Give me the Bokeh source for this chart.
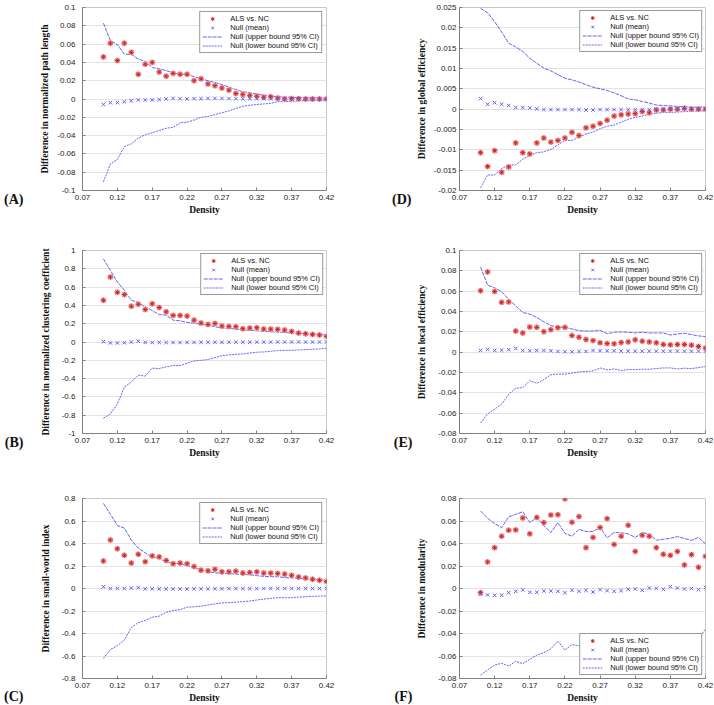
from bokeh.plotting import figure
from bokeh.layouts import gridplot
from bokeh.models import (FixedTicker, CustomJSTickFormatter, Legend, LegendItem,
                          LinearAxis, Range1d, ColumnDataSource)
from bokeh.embed import file_html
from bokeh.resources import INLINE

# ---------------- data ----------------
density = [0.10, 0.11, 0.12, 0.13, 0.14, 0.15, 0.16, 0.17, 0.18, 0.19, 0.20,
           0.21, 0.22, 0.23, 0.24, 0.25, 0.26, 0.27, 0.28, 0.29, 0.30, 0.31,
           0.32, 0.33, 0.34, 0.35, 0.36, 0.37, 0.38, 0.39, 0.40, 0.41, 0.42]
x_ticks = [0.07, 0.12, 0.17, 0.22, 0.27, 0.32, 0.37, 0.42]

legend_labels = ["ALS vs. NC", "Null (mean)", "Null (upper bound 95% CI)",
                 "Null (lower bound 95% CI)"]

# (A) normalized path length
A_ticks = [-0.1, -0.08, -0.06, -0.04, -0.02, 0, 0.02, 0.04, 0.06, 0.08, 0.1]
A_als = [0.046, 0.061, 0.042, 0.061, 0.051, 0.027, 0.038, 0.040, 0.0295, 0.025, 0.028,
         0.027, 0.027, 0.020, 0.022, 0.0165, 0.0145, 0.012, 0.0097, 0.006, 0.005, 0.004,
         0.003, 0.002, 0.0025, 0.001, 0.0, 0.0005, 0.0004, 0.0, 0.0, 0.0, 0.0]
A_null = [-0.006, -0.004, -0.004, -0.003, -0.002, -0.001, -0.001, -0.001, -0.0005, 0.0, 0.0007,
          0.0004, 0.0, 0.0004, 0.0004, 0.0007, 0.0007, 0.0006, 0.0005, 0.0004, 0.0003, 0.0003,
          0.0002, 0.0002, 0.0002, 0.0001, 0.0001, 0.0001, 0.0, 0.0, 0.0, 0.0, 0.0]
A_upper = [0.0828, 0.064, 0.0595, 0.049, 0.0487, 0.0437, 0.041, 0.0344, 0.033, 0.031, 0.0287,
           0.027, 0.027, 0.0244, 0.022, 0.020, 0.018, 0.0158, 0.013, 0.0104, 0.0079, 0.0068,
           0.0054, 0.0043, 0.0032, 0.0025, 0.002, 0.0018, 0.0015, 0.0014, 0.0011, 0.0010, 0.0007]
A_lower = [-0.0907, -0.071, -0.066, -0.052, -0.049, -0.0427, -0.039, -0.037, -0.0344, -0.032, -0.031,
           -0.026, -0.0254, -0.023, -0.020, -0.019, -0.017, -0.015, -0.013, -0.0104, -0.008, -0.0068,
           -0.006, -0.0054, -0.0047, -0.003, -0.0029, -0.0025, -0.002, -0.0018, -0.0018, -0.0015, -0.0014]

# (B) normalized clustering coefficient
B_ticks = [-1, -0.8, -0.6, -0.4, -0.2, 0, 0.2, 0.4, 0.6, 0.8, 1]
B_als = [0.456, 0.71, 0.543, 0.518, 0.391, 0.413, 0.355, 0.417, 0.377, 0.33, 0.29,
         0.29, 0.283, 0.239, 0.207, 0.192, 0.203, 0.174, 0.17, 0.167, 0.145, 0.152,
         0.156, 0.141, 0.141, 0.138, 0.13, 0.116, 0.098, 0.09, 0.083, 0.076, 0.062]
B_null = [0.004, -0.01, -0.01, -0.007, 0.0, 0.008, -0.004, -0.005, -0.005, -0.005, -0.005,
          -0.005, -0.004, -0.004, -0.003, -0.003, -0.003, -0.003, -0.002, -0.002, -0.002, -0.002,
          -0.001, -0.001, -0.001, 0.0, 0.0, 0.0, 0.0, 0.0, 0.0, 0.0, 0.0]
B_upper = [0.909, 0.783, 0.656, 0.565, 0.457, 0.431, 0.384, 0.344, 0.301, 0.293, 0.239,
           0.232, 0.214, 0.207, 0.192, 0.185, 0.167, 0.152, 0.149, 0.141, 0.134, 0.127,
           0.123, 0.116, 0.112, 0.109, 0.105, 0.098, 0.094, 0.091, 0.087, 0.083, 0.076]
B_lower = [-0.833, -0.786, -0.677, -0.493, -0.438, -0.362, -0.373, -0.286, -0.29, -0.272, -0.257,
           -0.257, -0.232, -0.207, -0.2, -0.192, -0.17, -0.149, -0.141, -0.134, -0.13, -0.12,
           -0.112, -0.109, -0.101, -0.094, -0.091, -0.091, -0.087, -0.083, -0.08, -0.076, -0.069]

# (C) small-world index
C_ticks = [-0.8, -0.6, -0.4, -0.2, 0, 0.2, 0.4, 0.6, 0.8]
C_als = [0.244, 0.431, 0.353, 0.295, 0.226, 0.304, 0.238, 0.29, 0.281, 0.249, 0.22,
         0.226, 0.22, 0.195, 0.163, 0.157, 0.171, 0.148, 0.148, 0.154, 0.137, 0.143,
         0.148, 0.137, 0.137, 0.134, 0.128, 0.117, 0.102, 0.094, 0.082, 0.073, 0.062]
C_null = [0.016, 0.0, 0.0, 0.0, 0.004, 0.007, -0.003, -0.003, -0.003, -0.004, -0.004,
          -0.004, -0.004, -0.003, -0.003, -0.003, -0.002, -0.002, -0.001, -0.001, -0.001, -0.001,
          -0.001, 0.0, 0.0, 0.0, 0.0, 0.0, 0.0, 0.0, 0.0, 0.0, 0.0]
C_upper = [0.756, 0.661, 0.56, 0.537, 0.431, 0.359, 0.316, 0.278, 0.269, 0.235, 0.229,
           0.218, 0.206, 0.183, 0.166, 0.151, 0.14, 0.134, 0.131, 0.128, 0.125, 0.122,
           0.114, 0.108, 0.105, 0.105, 0.097, 0.094, 0.091, 0.085, 0.082, 0.079, 0.073]
C_lower = [-0.621, -0.543, -0.509, -0.457, -0.347, -0.304, -0.284, -0.255, -0.246, -0.212, -0.195,
           -0.189, -0.166, -0.163, -0.157, -0.146, -0.137, -0.128, -0.125, -0.122, -0.117, -0.111,
           -0.102, -0.094, -0.088, -0.082, -0.082, -0.082, -0.076, -0.073, -0.07, -0.068, -0.065]

# (D) global efficiency
D_ticks = [-0.02, -0.015, -0.01, -0.005, 0, 0.005, 0.01, 0.015, 0.02, 0.025]
D_als = [-0.0107, -0.0141, -0.0102, -0.0155, -0.0142, -0.0083, -0.0107, -0.011, -0.0083, -0.0071, -0.0081,
         -0.0077, -0.0071, -0.0057, -0.0065, -0.0046, -0.0042, -0.0035, -0.0027, -0.0017, -0.0014, -0.0012,
         -0.0011, -0.0006, -0.0009, -0.0002, -0.0002, 0.0, 0.0, 0.0002, 0.0, 0.0, 0.0]
D_null = [0.0026, 0.0012, 0.0016, 0.0012, 0.0009, 0.0004, 0.0004, 0.0003, 0.0001, -0.0001, -0.0001,
          -0.0001, -0.0001, -0.0001, -0.0001, -0.0002, -0.0002, -0.0001, -0.0001, -0.0001, -0.0001, -0.0001,
          -0.0001, -0.0001, -0.0001, 0.0, 0.0, 0.0001, 0.0001, 0.0003, 0.0001, 0.0001, 0.0001]
D_upper = [0.0248, 0.0237, 0.0215, 0.019, 0.0162, 0.0153, 0.0142, 0.0125, 0.0113, 0.0101, 0.0094,
           0.0085, 0.0076, 0.0072, 0.0067, 0.006, 0.0054, 0.005, 0.0046, 0.004, 0.0033, 0.0025,
           0.0023, 0.0019, 0.0015, 0.001, 0.0009, 0.0008, 0.0007, 0.0006, 0.0005, 0.0005, 0.0005]
D_lower = [-0.0193, -0.0162, -0.0162, -0.0146, -0.0137, -0.0137, -0.0123, -0.0114, -0.0107, -0.0105, -0.0099,
           -0.0088, -0.0077, -0.0077, -0.0068, -0.0061, -0.0056, -0.0048, -0.0042, -0.0039, -0.0032, -0.0025,
           -0.002, -0.0017, -0.0013, -0.001, -0.0008, -0.0008, -0.0007, -0.0006, -0.0005, -0.0005, -0.0004]

# (E) local efficiency
E_ticks = [-0.08, -0.06, -0.04, -0.02, 0, 0.02, 0.04, 0.06, 0.08, 0.1]
E_als = [0.0604, 0.0789, 0.0597, 0.049, 0.0494, 0.0208, 0.0189, 0.0247, 0.0244, 0.0202, 0.0221,
         0.0241, 0.0244, 0.0163, 0.0147, 0.0124, 0.0114, 0.0092, 0.0085, 0.0082, 0.0095, 0.0101,
         0.0121, 0.0108, 0.0101, 0.0092, 0.0076, 0.0072, 0.0076, 0.0076, 0.0069, 0.0056, 0.004]
E_null = [0.0017, 0.0027, 0.0017, 0.002, 0.0024, 0.0037, 0.0017, 0.0014, 0.0017, 0.0017, 0.0014,
          0.0007, 0.0004, 0.0004, 0.0007, 0.0007, 0.0017, 0.0014, 0.0014, 0.0014, 0.001, 0.001,
          0.001, 0.001, 0.001, 0.001, 0.001, 0.001, 0.001, 0.001, 0.001, 0.001, 0.001]
E_upper = [0.0837, 0.0659, 0.0633, 0.0594, 0.052, 0.0455, 0.039, 0.0374, 0.0341, 0.0299, 0.026,
           0.025, 0.0244, 0.0228, 0.0212, 0.0208, 0.0208, 0.0215, 0.0182, 0.0196, 0.0199, 0.0196,
           0.0189, 0.0196, 0.0189, 0.0189, 0.0189, 0.0169, 0.0179, 0.0186, 0.0173, 0.016, 0.0153]
E_lower = [-0.0696, -0.0608, -0.056, -0.0511, -0.0414, -0.0355, -0.0349, -0.028, -0.0306, -0.0268, -0.0222,
           -0.0216, -0.0216, -0.0206, -0.0194, -0.019, -0.0184, -0.0155, -0.0174, -0.0165, -0.0181, -0.0171,
           -0.0171, -0.0168, -0.0168, -0.0161, -0.0155, -0.0155, -0.0165, -0.0158, -0.0161, -0.0152, -0.0142]

# (F) modularity
F_ticks = [-0.08, -0.06, -0.04, -0.02, 0, 0.02, 0.04, 0.06, 0.08]
F_als = [-0.0037, 0.0236, 0.0363, 0.0465, 0.0518, 0.0521, 0.0627, 0.0486, 0.0632, 0.0586, 0.0653,
         0.0656, 0.0797, 0.0589, 0.0639, 0.0363, 0.0454, 0.0542, 0.0621, 0.0392, 0.0465, 0.0562,
         0.033, 0.0474, 0.0465, 0.0363, 0.0304, 0.0295, 0.033, 0.021, 0.0301, 0.0189, 0.0286]
F_null = [-0.0051, -0.0057, -0.006, -0.006, -0.0037, -0.0025, -0.0013, -0.0034, -0.0034, -0.0022, -0.0022,
          -0.0025, -0.0037, -0.0016, -0.0025, -0.0016, -0.0031, -0.001, -0.0019, -0.0025, -0.0019, -0.0007,
          -0.0004, -0.0016, 0.0004, 0.0001, -0.0007, 0.0016, 0.0004, -0.0004, 0.0, -0.001, 0.001]
F_upper = [0.0689, 0.0624, 0.0577, 0.0542, 0.0636, 0.0659, 0.0683, 0.0586, 0.063, 0.0557, 0.0498,
           0.0586, 0.049, 0.0465, 0.0527, 0.0507, 0.0507, 0.0545, 0.045, 0.0498, 0.0495, 0.0486,
           0.0454, 0.0498, 0.0483, 0.043, 0.0438, 0.0446, 0.0462, 0.0445, 0.0428, 0.0454, 0.0396]
F_lower = [-0.0771, -0.0724, -0.068, -0.0665, -0.0689, -0.0648, -0.0668, -0.063, -0.0592, -0.0571, -0.0536,
           -0.0469, -0.0548, -0.0498, -0.051, -0.050, -0.049, -0.050, -0.048, -0.049, -0.047, -0.048,
           -0.046, -0.047, -0.046, -0.045, -0.046, -0.045, -0.044, -0.045, -0.043, -0.0445, -0.036]

# ---------------- styling ----------------
LINE_BLUE = "#5252ff"
X_BLUE = "#5e5eff"
STAR_RED = "#cf2a2a"
HALO_RED = "#f4a8a8"
FMT = CustomJSTickFormatter(code="return String(Number(tick.toFixed(4)));")


def make_panel(ylabel, yticks, als, null, upper, lower, letter, g):
    p = figure(width=g["w"], height=g["h"],
               x_range=Range1d(0.07, 0.42), y_range=Range1d(yticks[0], yticks[-1]),
               output_backend="svg", toolbar_location=None,
               min_border_left=g["bl"], min_border_right=g["br"],
               min_border_top=g["bt"], min_border_bottom=g["bb"])
    p.background_fill_color = "white"
    p.border_fill_color = "white"
    p.outline_line_color = "#c8c8c8"

    src = ColumnDataSource(dict(x=density, als=als, null=null, upper=upper, lower=lower))
    r_up = p.line("x", "upper", source=src, line_color=LINE_BLUE, line_width=1,
                  line_dash="4 1", line_alpha=0.9)
    r_lo = p.line("x", "lower", source=src, line_color=LINE_BLUE, line_width=1,
                  line_dash="2 1", line_alpha=0.9)
    r_halo = p.scatter("x", "als", source=src, marker="circle", size=6,
                       fill_color=HALO_RED, line_color=None, fill_alpha=0.9)
    r_star = p.scatter("x", "als", source=src, marker="asterisk", size=5,
                       line_color=STAR_RED, line_width=1)
    r_null = p.scatter("x", "null", source=src, marker="x", size=5,
                       line_color=X_BLUE, line_width=1)

    p.xaxis.ticker = FixedTicker(ticks=x_ticks)
    p.yaxis.ticker = FixedTicker(ticks=yticks)
    p.xaxis.formatter = FMT
    p.yaxis.formatter = FMT
    for ax in (p.xaxis, p.yaxis):
        ax.major_label_text_font = "Liberation Sans"
        ax.major_label_text_font_size = "8px"
        ax.major_label_text_color = "#222222"
        ax.axis_label_text_font = "Liberation Serif"
        ax.axis_label_text_font_style = "bold"
        ax.axis_label_text_font_size = "9.5px"
        ax.axis_label_text_color = "#111111"
        ax.axis_line_color = "#808080"
        ax.major_tick_line_color = "#808080"
        ax.major_tick_in = 3
        ax.major_tick_out = 0
        ax.minor_tick_line_color = None
    p.xaxis.axis_label = "Density"
    p.xaxis.major_label_standoff = 4
    p.xaxis.axis_label_standoff = 2
    p.yaxis.axis_label = ylabel
    p.yaxis.major_label_standoff = g["ts"]
    p.yaxis.axis_label_standoff = g["ls"]
    p.xgrid.grid_line_color = None
    p.ygrid.grid_line_color = "#e2e2e2"

    # panel letter: an extra, line-less left axis with a single labelled tick
    # at the bottom of the frame; leading blank lines push the letter down
    letter_text = "\\n" * g["nl"] + letter
    letter_axis = LinearAxis(ticker=FixedTicker(ticks=[yticks[0]]),
                             formatter=CustomJSTickFormatter(code="return '%s';" % letter_text),
                             axis_line_color=None, major_tick_line_color=None,
                             minor_tick_line_color=None,
                             major_tick_in=0, major_tick_out=0,
                             axis_label_standoff=0,
                             major_label_standoff=g["lsd"],
                             major_label_text_font="Liberation Serif",
                             major_label_text_font_style="bold",
                             major_label_text_font_size="14px",
                             major_label_text_color="#111111",
                             major_label_text_baseline="middle")
    p.add_layout(letter_axis, "left")

    items = [LegendItem(label=legend_labels[0], renderers=[r_halo, r_star]),
             LegendItem(label=legend_labels[1], renderers=[r_null]),
             LegendItem(label=legend_labels[2], renderers=[r_up]),
             LegendItem(label=legend_labels[3], renderers=[r_lo])]
    leg = Legend(items=items, location=g["loc"], margin=g["lm"], padding=2, spacing=0,
                 glyph_width=20, glyph_height=9, label_height=9, label_standoff=8,
                 label_text_font="Liberation Sans", label_text_font_size="7.5px",
                 label_text_color="#111111",
                 border_line_color="#333333", border_line_width=1,
                 background_fill_color="white", background_fill_alpha=1.0)
    p.add_layout(leg)
    return p


LW, RW = 357, 357
gA = dict(w=LW, h=235, bl=82, br=31, bt=7, bb=42, ts=7, ls=4, lsd=14, nl=1, loc="top_right", lm=4)
gB = dict(w=LW, h=235, bl=82, br=31, bt=15, bb=36, ts=7, ls=8, lsd=14, nl=1, loc="top_right", lm=3)
gC = dict(w=LW, h=235, bl=82, br=31, bt=26, bb=26, ts=7, ls=8, lsd=14, nl=2, loc="top_right", lm=4)
gD = dict(w=RW, h=235, bl=102, br=9, bt=6, bb=45, ts=3, ls=4, lsd=2, nl=1, loc="top_right", lm=3)
gE = dict(w=RW, h=235, bl=102, br=9, bt=13, bb=37, ts=3, ls=8, lsd=2, nl=1, loc="top_right", lm=3)
gF = dict(w=RW, h=235, bl=102, br=9, bt=28, bb=27, ts=3, ls=8, lsd=2, nl=2, loc="bottom_right", lm=3)

pA = make_panel("Difference in normalized path length", A_ticks, A_als, A_null, A_upper, A_lower, "(A)", gA)
pB = make_panel("Difference in normalized clustering coefficient", B_ticks, B_als, B_null, B_upper, B_lower, "(B)", gB)
pC = make_panel("Difference in small-world index", C_ticks, C_als, C_null, C_upper, C_lower, "(C)", gC)
pD = make_panel("Difference in global efficiency", D_ticks, D_als, D_null, D_upper, D_lower, "(D)", gD)
pE = make_panel("Difference in local efficiency", E_ticks, E_als, E_null, E_upper, E_lower, "(E)", gE)
pF = make_panel("Difference in modularity", F_ticks, F_als, F_null, F_upper, F_lower, "(F)", gF)

grid = gridplot([[pA, pD], [pB, pE], [pC, pF]], toolbar_location=None)

open("out.html", "w").write(file_html(grid, INLINE))
